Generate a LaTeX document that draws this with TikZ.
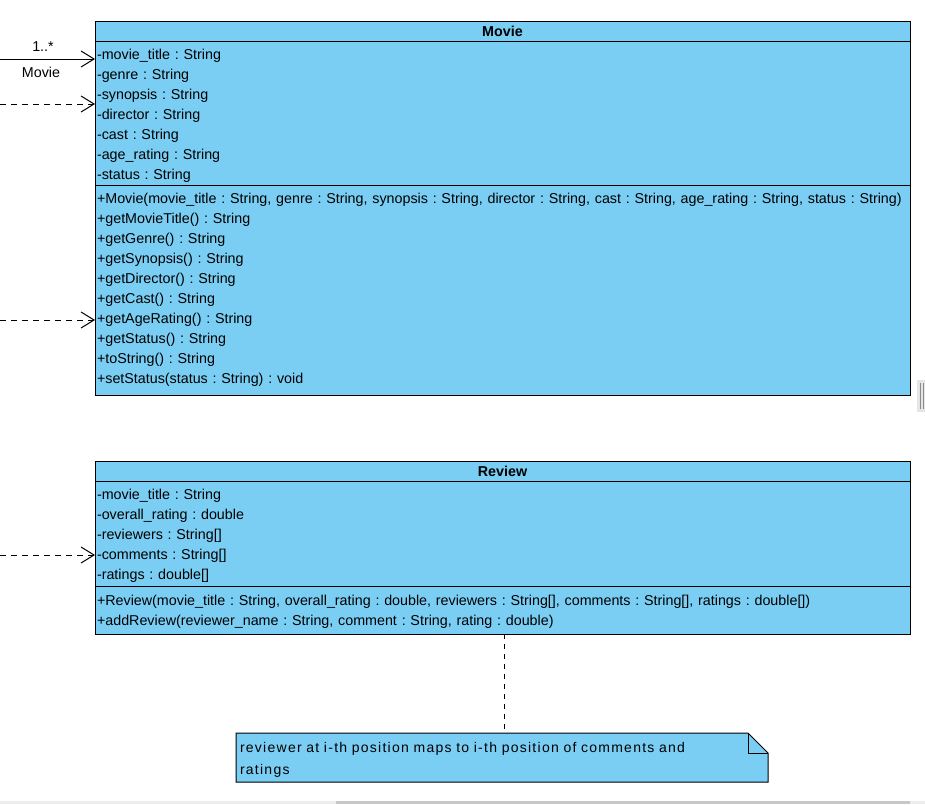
\documentclass[tikz,border=0pt]{standalone}
\usepackage{fontspec}
\setmainfont{Liberation Sans}
\newfontfamily\notefont[LetterSpace=9]{Liberation Sans}
\usetikzlibrary{arrows.meta,positioning,calc,backgrounds}
\definecolor{classblue}{RGB}{122,206,244}
\frenchspacing

\begin{document}
\begin{tikzpicture}[x=1pt, y=-1pt, node distance=0pt, line width=1pt,
    font=\fontsize{14.3}{20}\selectfont,
    classhead/.style={rectangle, draw, fill=classblue, minimum width=815pt, minimum height=20pt, inner sep=0pt, outer sep=0pt, font=\fontsize{14.3}{20}\selectfont\bfseries},
    compart/.style={rectangle, draw, fill=classblue, text width=811pt, inner xsep=2pt, inner ysep=0pt, outer sep=0pt, align=left},
    openhead/.style={-{Straight Barb[length=13pt,width=16pt,line width=1pt]}},
    depline/.style={openhead, dash pattern=on 6pt off 5pt}]
        \useasboundingbox (0,0) rectangle (925,804);
        \begin{scope}[on background layer]
          \fill[white] (0,0) rectangle (925,804);
        \end{scope}

        % Movie class
        \node[classhead] (movie) at (502.5,31) {Movie};
        \node[below=of movie, compart, minimum height=144pt] (movieattr) {\rule{0pt}{16pt}-movie\_title : String\\-genre : String\\-synopsis : String\\-director : String\\-cast : String\\-age\_rating : String\\-status : String};
        \node[below=of movieattr, compart, minimum height=210pt] (movieops) {+Movie(movie\_title : String, genre : String, synopsis : String, director : String, cast : String, age\_rating : String, status : String)\\+getMovieTitle() : String\\+getGenre() : String\\+getSynopsis() : String\\+getDirector() : String\\+getCast() : String\\+getAgeRating() : String\\+getStatus() : String\\+toString() : String\\+setStatus(status : String) : void};

        % Review class
        \node[classhead] (review) at (502.5,471) {Review};
        \node[below=of review, compart, minimum height=105pt] (reviewattr) {\rule{0pt}{14pt}-movie\_title : String\\-overall\_rating : double\\-reviewers : String[]\\-comments : String[]\\-ratings : double[]};
        \node[below=of reviewattr, compart, minimum height=48pt] (reviewops) {\rule{0pt}{14pt}+Review(movie\_title : String, overall\_rating : double, reviewers : String[], comments : String[], ratings : double[])\\+addReview(reviewer\_name : String, comment : String, rating : double)};

        % note
        \node[rectangle, minimum width=532pt, minimum height=49pt, text width=524pt, inner xsep=4pt, inner ysep=0pt, outer sep=0pt, align=left,
              font=\notefont\fontsize{14}{22}\selectfont] (note) at (502,757.5)
              {\rule{0pt}{14pt}reviewer at i-th position maps to i-th position of comments and\\ratings};
        \begin{scope}[on background layer]
          \fill[classblue] (note.north west) -- ($(note.north east)+(-20,0)$) -- ($(note.north east)+(0,20)$) -- (note.south east) -- (note.south west) -- cycle;
        \end{scope}
        \draw (note.north west) -- ($(note.north east)+(-20,0)$) -- ($(note.north east)+(0,20)$) -- (note.south east) -- (note.south west) -- cycle;
        \draw ($(note.north east)+(-20,0)$) |- ($(note.north east)+(0,20)$);

        % connectors coming in from the left
        \coordinate (assocsrc) at (0,59);
        \coordinate (depsrca) at (0,104);
        \coordinate (depsrcb) at (0,320);
        \coordinate (depsrcc) at (0,555);
        \draw[openhead] (assocsrc) -- (movieattr.west |- assocsrc);
        \draw[depline] (depsrca) -- (movieattr.west |- depsrca);
        \draw[depline] (depsrcb) -- (movieops.west |- depsrcb);
        \draw[depline] (depsrcc) -- (reviewattr.west |- depsrcc);
        \node (mult) at (43,47) {1..*};
        \node (role) at (41,72) {Movie};

        % note link
        \coordinate (notex) at (504,0);
        \draw[dash pattern=on 5pt off 5pt] (reviewops.south -| notex) -- (note.north -| notex);

        % window scrollbars
        \fill[black!7] (0,801) rectangle (925,804);
        \fill[black!22] (336,801) rectangle (910,804);
        \fill[black!10] (917,380) rectangle (925,412);
        \draw[black!45, line width=0.8pt] (920,383) -- (920,409);
        \draw[black!45, line width=0.8pt] (923,383) -- (923,409);
      \end{tikzpicture}
\end{document}
